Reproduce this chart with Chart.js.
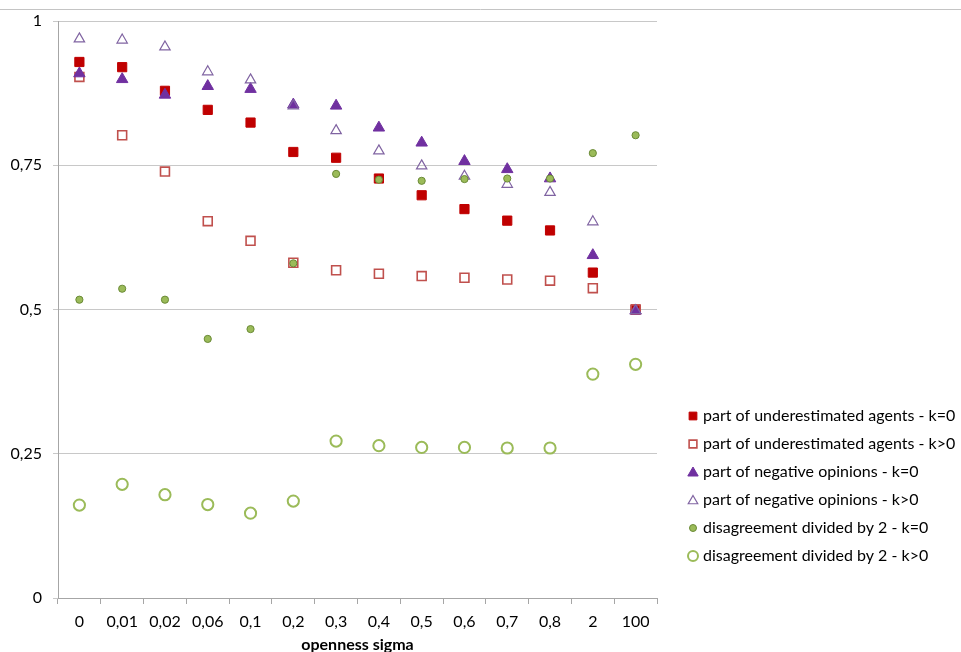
<!DOCTYPE html>
<html>
<head>
<meta charset="utf-8">
<title>openness sigma</title>
<script src="https://cdn.jsdelivr.net/npm/chart.js@4/dist/chart.umd.min.js"></script>
<style>
  html, body { margin: 0; padding: 0; background: #fff; overflow: hidden; }
  #wrap { position: relative; width: 961px; height: 652px; }
</style>
</head>
<body>
<div id="wrap"><canvas id="chart"></canvas></div>
<script>
// Categories (openness sigma) and y tick labels
const sigmaLabels = ['0', '0,01', '0,02', '0,06', '0,1', '0,2', '0,3', '0,4', '0,5', '0,6', '0,7', '0,8', '2', '100'];
const yTickLabels = ['0', '0,25', '0,5', '0,75', '1'];

// Series
const underK0   = [0.929, 0.920, 0.879, 0.846, 0.824, 0.773, 0.763, 0.727, 0.698, 0.674, 0.654, 0.637, 0.564, 0.500];
const underKpos = [0.903, 0.802, 0.739, 0.653, 0.619, 0.581, 0.568, 0.562, 0.558, 0.555, 0.552, 0.550, 0.537, 0.500];
const negK0     = [0.909, 0.899, 0.872, 0.887, 0.882, 0.855, 0.853, 0.815, 0.789, 0.757, 0.743, 0.727, 0.594, 0.498];
const negKpos   = [0.969, 0.967, 0.955, 0.912, 0.898, 0.853, 0.810, 0.775, 0.749, 0.731, 0.717, 0.703, 0.652, 0.498];
const disK0     = [0.517, 0.536, 0.517, 0.449, 0.466, 0.580, 0.735, 0.725, 0.723, 0.726, 0.727, 0.727, 0.771, 0.802];
const disKpos   = [0.161, 0.197, 0.179, 0.162, 0.147, 0.168, 0.272, 0.264, 0.261, 0.261, 0.260, 0.260, 0.388, 0.405];

const FONT = 'Lato';

// trait gris en haut de la page
const topLine = {
    id: 'topLine',
    beforeDraw(chart) {
        const ctx = chart.ctx;
        ctx.save();
        ctx.strokeStyle = '#c4c4c4';
        ctx.lineWidth = 1;
        ctx.beginPath();
        ctx.moveTo(0, 9.5);
        ctx.lineTo(chart.width, 9.5);
        ctx.stroke();
        ctx.restore();
    }
};

// légende à droite, en bas
const sideLegend = {
    id: 'sideLegend',
    afterDraw(chart) {
        const ctx = chart.ctx;
        const sizes = [5.5, 5.5, 6, 5.5, 3.5, 5];
        ctx.save();
        chart.data.datasets.forEach((ds, i) => {
            const y = 416 + i * 28;
            ctx.fillStyle = ds.pointBackgroundColor;
            ctx.strokeStyle = ds.pointBorderColor;
            ctx.lineWidth = ds.pointBorderWidth;
            Chart.helpers.drawPoint(ctx, {
                pointStyle: ds.pointStyle,
                radius: sizes[i],
                rotation: 0,
                borderWidth: ds.pointBorderWidth
            }, 693, y + (ds.pointStyle === 'triangle' ? 1 : 0));
            ctx.fillStyle = '#000';
            ctx.font = '16px ' + FONT;
            ctx.textBaseline = 'middle';
            ctx.textAlign = 'left';
            ctx.fillText(ds.label, 703, y);
        });
        ctx.restore();
    }
};

function series(label, data, style, fill, border, radius, bw) {
    return {
        label: label,
        data: data,
        showLine: false,
        pointStyle: style,
        pointRadius: radius,
        pointHoverRadius: radius,
        pointBackgroundColor: fill,
        pointBorderColor: border,
        pointBorderWidth: bw,
        backgroundColor: fill,
        borderColor: border
    };
}

const datasets = [
    series('part of underestimated agents - k=0', underK0, 'rect', '#c00000', '#c00000', 6.5, 1),
    series('part of underestimated agents - k>0', underKpos, 'rect', 'rgba(255,255,255,0)', '#c0504d', 6.3, 1.6),
    series('part of negative opinions - k=0', negK0, 'triangle', '#7030a0', '#7030a0', 6.6, 1),
    series('part of negative opinions - k>0', negKpos, 'triangle', 'rgba(255,255,255,0)', '#8064a2', 6, 1.2),
    series('disagreement divided by 2 - k=0', disK0, 'circle', '#9bbb59', '#6a8a36', 3.6, 1),
    series('disagreement divided by 2 - k>0', disKpos, 'circle', 'rgba(255,255,255,0)', '#9bbb59', 5.6, 2)
];
// Excel dessine la dernière série au-dessus
datasets.forEach((ds, i) => { ds.order = datasets.length - i; });

new Chart(document.getElementById('chart'), {
    type: 'line',
    data: {
        labels: sigmaLabels,
        datasets: datasets
    },
    options: {
        responsive: true,
        maintainAspectRatio: false,
        animation: false,
        events: [],
        layout: {
            padding: { top: 21, right: 304, bottom: 0, left: 0 }
        },
        plugins: {
            legend: { display: false },
            tooltip: { enabled: false }
        },
        scales: {
            x: {
                type: 'category',
                offset: true,
                grid: {
                    offset: true,
                    drawOnChartArea: false,
                    drawTicks: true,
                    tickLength: 6,
                    color: '#a6a6a6'
                },
                border: { display: true, color: '#a6a6a6' },
                ticks: {
                    color: '#000',
                    padding: 8,
                    maxRotation: 0,
                    autoSkip: false,
                    font: { family: FONT, size: 16 }
                },
                title: {
                    display: true,
                    text: 'openness sigma',
                    color: '#000',
                    padding: { top: 0, bottom: -2.6 },
                    font: { family: FONT, size: 16, weight: 'bold' }
                },
                afterFit(scale) { scale.height = 54; }
            },
            y: {
                min: 0,
                max: 1,
                grid: {
                    color: '#c8c8c8',
                    tickLength: 5,
                    drawTicks: true
                },
                border: { display: true, color: '#a6a6a6' },
                ticks: {
                    stepSize: 0.25,
                    color: '#000',
                    padding: 11,
                    font: { family: FONT, size: 16 },
                    callback: (v, i) => yTickLabels[i]
                },
                afterFit(scale) { scale.width = 58; }
            }
        }
    },
    plugins: [topLine, sideLegend]
});
</script>
</body>
</html>
